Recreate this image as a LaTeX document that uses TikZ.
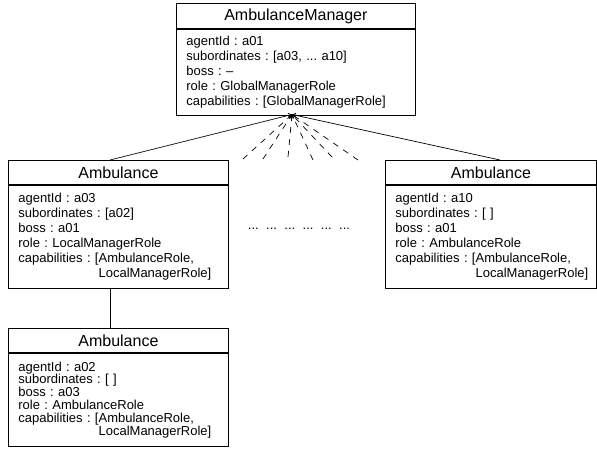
\documentclass[tikz,border=0pt]{standalone}
\usepackage{fontspec}
\setmainfont{Liberation Sans}
\usetikzlibrary{arrows.meta}
\frenchspacing
\tikzset{
  hdr/.style={draw, line width=0.8pt, anchor=north west, inner sep=0pt,
    font=\fontsize{16}{18}\selectfont},
  attrs/.style={draw, line width=0.8pt, anchor=north west, inner xsep=10pt, inner ysep=0pt,
    align=left, font=\fontsize{13}{#1}\selectfont},
  attrs/.default=15,
  link/.style={line width=0.7pt, -{Straight Barb[length=3pt,width=4pt]}},
  dlink/.style={link, dash pattern=on 6pt off 6pt},
}
\newcommand{\capind}{\phantom{capabilities : [}}
\newcommand{\wideskip}{\spaceskip=7.4pt\relax}
\begin{document}
\begin{tikzpicture}[x=1pt,y=-1pt]
  \useasboundingbox (0,0) rectangle (597,457);
  % manager box
  \node[hdr, minimum width=239, minimum height=25] (mgrHead) at (176,3) {AmbulanceManager};
  \node[attrs, minimum width=239, minimum height=86, text width=219] (mgrBody) at (mgrHead.south west)
    {agentId : a01\\subordinates : [a03, ... a10]\\boss : --\\role : GlobalManagerRole\\capabilities : [GlobalManagerRole]};
  % local manager box
  \node[hdr, minimum width=220, minimum height=24] (lmHead) at (8,160) {Ambulance};
  \node[attrs, minimum width=220, minimum height=103, text width=200] (lmBody) at (lmHead.south west)
    {agentId : a03\\subordinates : [a02]\\boss : a01\\role : LocalManagerRole\\capabilities : [AmbulanceRole,\\\capind LocalManagerRole]};
  % last ambulance box
  \node[hdr, minimum width=211, minimum height=24] (lastHead) at (385,160) {Ambulance};
  \node[attrs, minimum width=211, minimum height=103, text width=191] (lastBody) at (lastHead.south west)
    {agentId : a10\\subordinates : [ ]\\boss : a01\\role : AmbulanceRole\\capabilities : [AmbulanceRole,\\\capind LocalManagerRole]};
  % subordinate ambulance box
  \node[hdr, minimum width=220, minimum height=24] (subHead) at (8,328) {Ambulance};
  \node[attrs=12.8, minimum width=220, minimum height=93, text width=200] (subBody) at (subHead.south west)
    {agentId : a02\\subordinates : [ ]\\boss : a03\\role : AmbulanceRole\\capabilities : [AmbulanceRole,\\\capind LocalManagerRole]};
  % ellipsis for the omitted ambulances
  \node[font=\fontsize{13}{15}\selectfont] (more) at (299,229) {\wideskip ... ... ... ... ... ...};
  % connectors
  \coordinate (apex) at (292,114.5);
  \coordinate (lmTop) at (110,160);
  \coordinate (lastTop) at (500,160);
  \coordinate (d1) at (243,159);
  \coordinate (d2) at (263,159);
  \coordinate (d3) at (288,157);
  \coordinate (d4) at (313,160);
  \coordinate (d5) at (332,157);
  \coordinate (d6) at (358,160);
  \draw[link] (lmTop) -- (apex);
  \draw[link] (lastTop) -- (apex);
  \foreach \d in {d1,d2,d3,d4,d5,d6}
    \draw[dlink] (\d) -- (apex);
  \draw[line width=0.7pt] (lmBody.south -| lmTop) -- (subHead.north -| lmTop);
\end{tikzpicture}
\end{document}
